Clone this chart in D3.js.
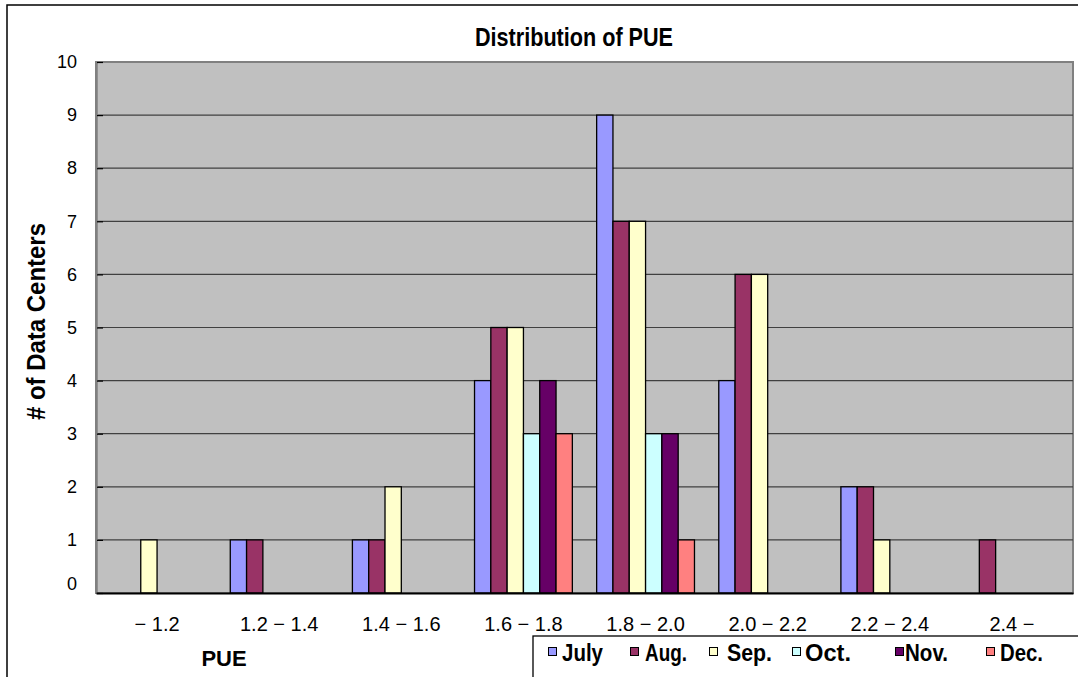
<!DOCTYPE html>
<html><head><meta charset="utf-8">
<script src="https://cdn.jsdelivr.net/npm/d3@7"></script>
<style>
body{margin:0;background:#fff;}
svg{display:block;}
.lbl{font-family:"Liberation Sans",Arial,sans-serif;font-weight:bold;}
.tick text{font-family:"Liberation Sans",Arial,sans-serif;}
</style></head>
<body>
<script>
const categories = ["− 1.2","1.2 − 1.4","1.4 − 1.6","1.6 − 1.8","1.8 − 2.0","2.0 − 2.2","2.2 − 2.4","2.4 −"];
const seriesNames = ["July","Aug.","Sep.","Oct.","Nov.","Dec."];
const july = [0,1,1,4,9,4,2,0];
const aug  = [0,1,1,5,7,6,2,1];
const sep  = [1,0,2,5,7,6,1,0];
const oct  = [0,0,0,3,3,0,0,0];
const nov  = [0,0,0,4,3,0,0,0];
const dec  = [0,0,0,3,1,0,0,0];
const yTicks = [0,1,2,3,4,5,6,7,8,9,10];
const colors = ["#9999FF","#993366","#FFFFCC","#CCFFFF","#660066","#FF8080"];
const seriesValues = [july,aug,sep,oct,nov,dec];

const W=1078,H=677;
const svg=d3.select("body").append("svg").attr("width",W).attr("height",H);
svg.append("rect").attr("x",7).attr("y",5).attr("width",W+10).attr("height",H+10)
  .attr("fill","#fff").attr("stroke","#000").attr("stroke-width",1.5);

const L=96,R=1073,T=62,B=593;
const x=d3.scaleBand().domain(categories).range([L,R]).paddingInner(0).paddingOuter(0);
const xs=d3.scaleBand().domain(seriesNames).range([0,x.bandwidth()]).paddingOuter(0.745).paddingInner(0);
const y=d3.scaleLinear().domain([0,10]).range([B,T]);

// plot background
svg.append("rect").attr("x",L).attr("y",T).attr("width",R-L).attr("height",B-T)
  .attr("fill","#C0C0C0").attr("stroke","#808080").attr("stroke-width",2);

// gridlines
svg.append("g").selectAll("line").data(yTicks.filter(d=>d>0&&d<10)).join("line")
  .attr("x1",L).attr("x2",R).attr("y1",d=>y(d)).attr("y2",d=>y(d))
  .attr("stroke","#404040").attr("stroke-width",1.2);

// bars
const g=svg.append("g");
seriesValues.forEach((vals,si)=>{
  g.selectAll(null).data(categories.map((c,i)=>({c,v:vals[i]})).filter(d=>d.v>0)).join("rect")
    .attr("x",d=>x(d.c)+xs(seriesNames[si]))
    .attr("y",d=>y(d.v))
    .attr("width",xs.bandwidth())
    .attr("height",d=>y(0)-y(d.v))
    .attr("fill",colors[si]).attr("stroke","#000").attr("stroke-width",1.3);
});

// axes
const yAxis=svg.append("g").attr("transform",`translate(${L},0)`)
  .call(d3.axisLeft(y).tickValues(yTicks).tickSize(0).tickPadding(19).tickFormat(d3.format("d")));
yAxis.select(".domain").attr("stroke","#808080").attr("stroke-width",2.5);
yAxis.selectAll("text").attr("font-size",18).attr("fill","#000");
yAxis.selectAll(".tick").append("line").attr("x1",1).attr("x2",7).attr("stroke","#000").attr("stroke-width",1.2);
yAxis.selectAll(".tick").filter(d=>d===0).select("text").attr("dy","-0.2em");

const xAxis=svg.append("g").attr("transform",`translate(0,${B})`)
  .call(d3.axisBottom(x).tickSize(0).tickPadding(24));
xAxis.select(".domain").attr("stroke","#000").attr("stroke-width",1.8);
xAxis.selectAll("text").attr("font-size",20).attr("fill","#000");

// title
svg.append("text").attr("class","lbl").attr("x",574).attr("y",46).attr("text-anchor","middle")
  .attr("font-size",25).attr("textLength",198).attr("lengthAdjust","spacingAndGlyphs").text("Distribution of PUE");
// y label
svg.append("text").attr("class","lbl").attr("transform","translate(45,321.5) rotate(-90)")
  .attr("text-anchor","middle").attr("font-size",26).attr("textLength",197).attr("lengthAdjust","spacingAndGlyphs")
  .text("# of Data Centers");
// x label
svg.append("text").attr("class","lbl").attr("x",224).attr("y",666).attr("text-anchor","middle")
  .attr("font-size",22).text("PUE");

// legend
svg.append("rect").attr("x",533).attr("y",636).attr("width",600).attr("height",60)
  .attr("fill","#fff").attr("stroke","#000").attr("stroke-width",1.3);
const legX=[548,630,709,792,895,986];
const legLen=[41,42,45,46,43,43];
const leg=svg.append("g").selectAll("g").data(seriesNames).join("g")
  .attr("transform",(d,i)=>`translate(${legX[i]},0)`);
leg.append("rect").attr("x",0.5).attr("y",647.5).attr("width",8).attr("height",8)
  .attr("fill",(d,i)=>colors[i]).attr("stroke","#000").attr("stroke-width",1);
leg.append("text").attr("class","lbl").attr("x",(d,i)=>[14,15,18,13,10,14][i]).attr("y",661).attr("font-size",24)
  .attr("textLength",(d,i)=>legLen[i]).attr("lengthAdjust","spacingAndGlyphs").text(d=>d);
</script>
</body></html>
